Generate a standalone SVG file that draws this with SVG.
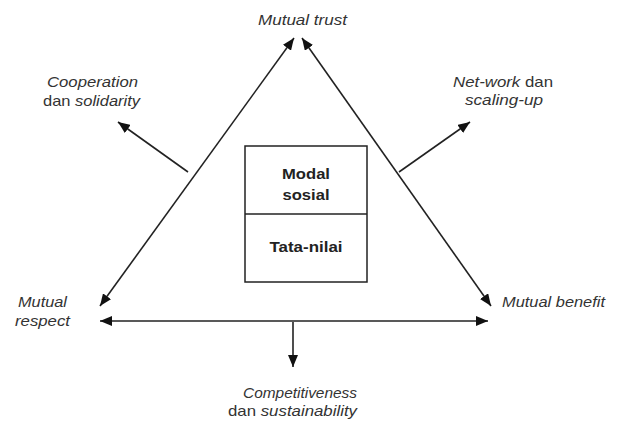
<svg xmlns="http://www.w3.org/2000/svg" width="623" height="423" viewBox="0 0 623 423">
<style>
.t{font-family:"Liberation Sans",Arial,sans-serif;font-size:15px;fill:#333;}
.i{font-style:italic;}
.b{font-weight:bold;fill:#222;}
.ln{stroke:#222;stroke-width:1.6;fill:none;}
</style>
<defs>
<marker id="ah" viewBox="0 0 12 10" refX="12" refY="5" markerWidth="12" markerHeight="10" markerUnits="userSpaceOnUse" orient="auto-start-reverse">
<path d="M0,0 L12,5 L0,10 Z" fill="#111"/>
</marker>
</defs>
<rect width="623" height="423" fill="#fff"/>
<g id="connectors">
<line class="ln" x1="100" y1="306" x2="294" y2="38" marker-start="url(#ah)" marker-end="url(#ah)"/>
<line class="ln" x1="302" y1="38" x2="491" y2="306" marker-start="url(#ah)" marker-end="url(#ah)"/>
<line class="ln" x1="100" y1="321" x2="488" y2="321" marker-start="url(#ah)" marker-end="url(#ah)"/>
<line class="ln" x1="293" y1="322" x2="293" y2="367" marker-end="url(#ah)"/>
<line class="ln" x1="188" y1="172" x2="118" y2="122" marker-end="url(#ah)"/>
<line class="ln" x1="399" y1="172" x2="470" y2="122" marker-end="url(#ah)"/>
</g>
<g id="center-box">
<rect x="245" y="146" width="122" height="136" fill="#fff" stroke="#222" stroke-width="1.5"/>
<line x1="245" y1="214" x2="367" y2="214" stroke="#222" stroke-width="1.5"/>
<text class="t b" x="306" y="179" text-anchor="middle" textLength="48" lengthAdjust="spacingAndGlyphs">Modal</text>
<text class="t b" x="306" y="200" text-anchor="middle" textLength="47" lengthAdjust="spacingAndGlyphs">sosial</text>
<text class="t b" x="306" y="252" text-anchor="middle" textLength="73" lengthAdjust="spacingAndGlyphs">Tata-nilai</text>
</g>
<g id="mutual-trust">
<text class="t i" x="258" y="25" textLength="89" lengthAdjust="spacingAndGlyphs">Mutual trust</text>
</g>
<g id="cooperation">
<text class="t i" x="47" y="87" textLength="91" lengthAdjust="spacingAndGlyphs">Cooperation</text>
<text class="t" x="43" y="106" textLength="97" lengthAdjust="spacingAndGlyphs">dan <tspan class="i">solidarity</tspan></text>
</g>
<g id="network">
<text class="t" x="453" y="87" textLength="100" lengthAdjust="spacingAndGlyphs"><tspan class="i">Net-work</tspan> dan</text>
<text class="t i" x="465" y="105" textLength="78" lengthAdjust="spacingAndGlyphs">scaling-up</text>
</g>
<g id="mutual-respect">
<text class="t i" x="18" y="307" textLength="49" lengthAdjust="spacingAndGlyphs">Mutual</text>
<text class="t i" x="15" y="326" textLength="55" lengthAdjust="spacingAndGlyphs">respect</text>
</g>
<g id="mutual-benefit">
<text class="t i" x="502" y="307" textLength="103" lengthAdjust="spacingAndGlyphs">Mutual benefit</text>
</g>
<g id="competitiveness">
<text class="t i" x="243" y="398" textLength="114" lengthAdjust="spacingAndGlyphs">Competitiveness</text>
<text class="t" x="228" y="416" textLength="129" lengthAdjust="spacingAndGlyphs">dan <tspan class="i">sustainability</tspan></text>
</g>
</svg>
